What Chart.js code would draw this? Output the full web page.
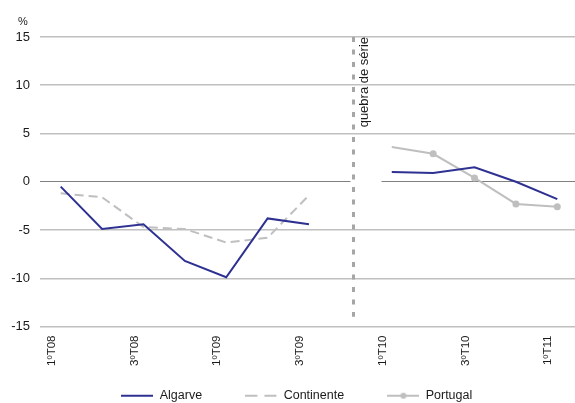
<!DOCTYPE html>
<html>
<head>
<meta charset="utf-8">
<script src="https://cdn.jsdelivr.net/npm/chart.js@4.4.1/dist/chart.umd.min.js"></script>
<style>
  html, body { margin: 0; padding: 0; background: #fff; overflow: hidden; }
  #wrap { position: relative; width: 582px; height: 412px; }
</style>
</head>
<body>
<div id="wrap"><canvas id="chart"></canvas></div>
<script>
// ── Data ─────────────────────────────────────────────────────────────────────
const quarters   = ['1ºT08','2ºT08','3ºT08','4ºT08','1ºT09','2ºT09','3ºT09','4ºT09','1ºT10','2ºT10','3ºT10','4ºT10','1ºT11'];
const algarve    = [-0.5, -4.9, -4.4, -8.2, -9.9, -3.8, -4.4, null, 1.0, 0.9, 1.5, 0.0, -1.8];
const continente = [-1.2, -1.6, -4.7, -4.9, -6.3, -5.8, -1.4, null, null, null, null, null, null];
const portugal   = [null, null, null, null, null, null, null, null, 3.6, 2.9, 0.4, -2.3, -2.6];
const yMin = -15, yMax = 15, yStep = 5;
const breakIndex = 7;
const breakLabel = 'quebra de série';
const unitLabel  = '%';

// ── Colours ─────────────────────────────────────────────────────────────────
const C = {
  algarve: '#2e3192',
  grey:    '#bfbfbf',
  grid:    '#c0c0c0',
  zero:    '#808080',
  brk:     '#a6a6a6',
  text:    '#1a1a1a',
};
const FONT = "'Liberation Sans', Arial, sans-serif";

// small canvases used as legend symbols
function legendSymbol(color, dash, dot) {
  const cv = document.createElement('canvas');
  cv.width = 32; cv.height = 10;
  const g = cv.getContext('2d');
  g.strokeStyle = color;
  g.lineWidth = 2;
  g.setLineDash(dash || []);
  g.beginPath(); g.moveTo(0, 5); g.lineTo(32, 5); g.stroke();
  if (dot) {
    g.fillStyle = color;
    g.beginPath(); g.arc(16, 5, 3, 0, Math.PI * 2); g.fill();
  }
  return cv;
}
const symbols = [
  legendSymbol(C.algarve),
  legendSymbol(C.grey, [12, 7]),
  legendSymbol(C.grey, null, true),
];
const legendGap = '\u0020'.repeat(7); // extra room after each legend entry

// ── Break marker + unit label ───────────────────────────────────────────────
const breakPlugin = {
  id: 'breakLine',
  afterDatasetsDraw(chart) {
    const { ctx, chartArea, scales: { x, y } } = chart;
    const bx = Math.round(x.getPixelForValue(breakIndex)) + 3.5;
    ctx.save();
    // white gap in zero line around the break
    ctx.strokeStyle = '#fff';
    ctx.lineWidth = 2;
    ctx.beginPath();
    ctx.moveTo(bx - 3, y.getPixelForValue(0));
    ctx.lineTo(bx + 28, y.getPixelForValue(0));
    ctx.stroke();
    // dashed vertical break
    ctx.strokeStyle = C.brk;
    ctx.lineWidth = 3;
    ctx.setLineDash([5, 7.5]);
    ctx.beginPath();
    ctx.moveTo(bx, chartArea.top);
    ctx.lineTo(bx, y.getPixelForValue(-14));
    ctx.stroke();
    ctx.setLineDash([]);
    // rotated caption
    ctx.translate(bx + 11, chartArea.top);
    ctx.rotate(-Math.PI / 2);
    ctx.fillStyle = C.text;
    ctx.font = '13px ' + FONT;
    ctx.textAlign = 'right';
    ctx.textBaseline = 'middle';
    ctx.fillText(breakLabel, 0, 0);
    ctx.restore();
    // "%" above the y axis
    ctx.save();
    ctx.fillStyle = C.text;
    ctx.font = '11px ' + FONT;
    ctx.textAlign = 'center';
    ctx.textBaseline = 'middle';
    ctx.fillText(unitLabel, 23, chartArea.top - 15);
    ctx.restore();
  },
};

new Chart(document.getElementById('chart'), {
  type: 'line',
  data: {
    labels: quarters,
    datasets: [
      {
        label: 'Algarve',
        data: algarve,
        borderColor: C.algarve,
        backgroundColor: C.algarve,
        borderWidth: 2,
        pointRadius: 0,
        tension: 0,
      },
      {
        label: 'Continente',
        data: continente,
        borderColor: C.grey,
        backgroundColor: C.grey,
        borderWidth: 2,
        borderDash: [9, 5],
        pointRadius: 0,
        tension: 0,
      },
      {
        label: 'Portugal',
        data: portugal,
        borderColor: C.grey,
        backgroundColor: C.grey,
        borderWidth: 2,
        pointRadius: portugal.map((v, i) => (i === breakIndex + 1 ? 0 : 3.5)),
        pointBorderWidth: 0,
        tension: 0,
      },
    ],
  },
  options: {
    responsive: true,
    maintainAspectRatio: false,
    animation: false,
    layout: { padding: { top: 37, left: 0, right: 2, bottom: 0 } },
    plugins: {
      tooltip: { enabled: false },
      legend: {
        position: 'bottom',
        fullSize: false,
        labels: {
          usePointStyle: true,
          pointStyleWidth: 32,
          padding: 19,
          color: C.text,
          font: { family: FONT, size: 12.5 },
          generateLabels: chart => chart.data.datasets.map((ds, i) => ({
            text: ds.label + legendGap,
            pointStyle: symbols[i],
            fillStyle: 'transparent',
            strokeStyle: 'transparent',
            lineWidth: 0,
            datasetIndex: i,
            fontColor: C.text,
          })),
        },
      },
    },
    scales: {
      x: {
        offset: true,
        grid: { display: false, drawTicks: false },
        border: { display: false },
        afterFit: s => { s.height = 44; },
        ticks: {
          autoSkip: false,
          minRotation: 90,
          maxRotation: 90,
          padding: 9,
          labelOffset: -9,
          color: C.text,
          font: { family: FONT, size: 11.5 },
          callback: (v, i) => (i % 2 === 0 ? quarters[i] : ''),
        },
      },
      y: {
        min: yMin,
        max: yMax,
        grid: {
          drawTicks: false,
          color: c => (c.tick.value === 0 ? C.zero : C.grid),
          lineWidth: c => (c.tick.value === 0 ? 1 : 1.5),
        },
        border: { display: false },
        afterFit: s => { s.width = 40; },
        ticks: {
          stepSize: yStep,
          padding: 10,
          color: C.text,
          font: { family: FONT, size: 13 },
        },
      },
    },
  },
  plugins: [breakPlugin],
});
</script>
</body>
</html>
